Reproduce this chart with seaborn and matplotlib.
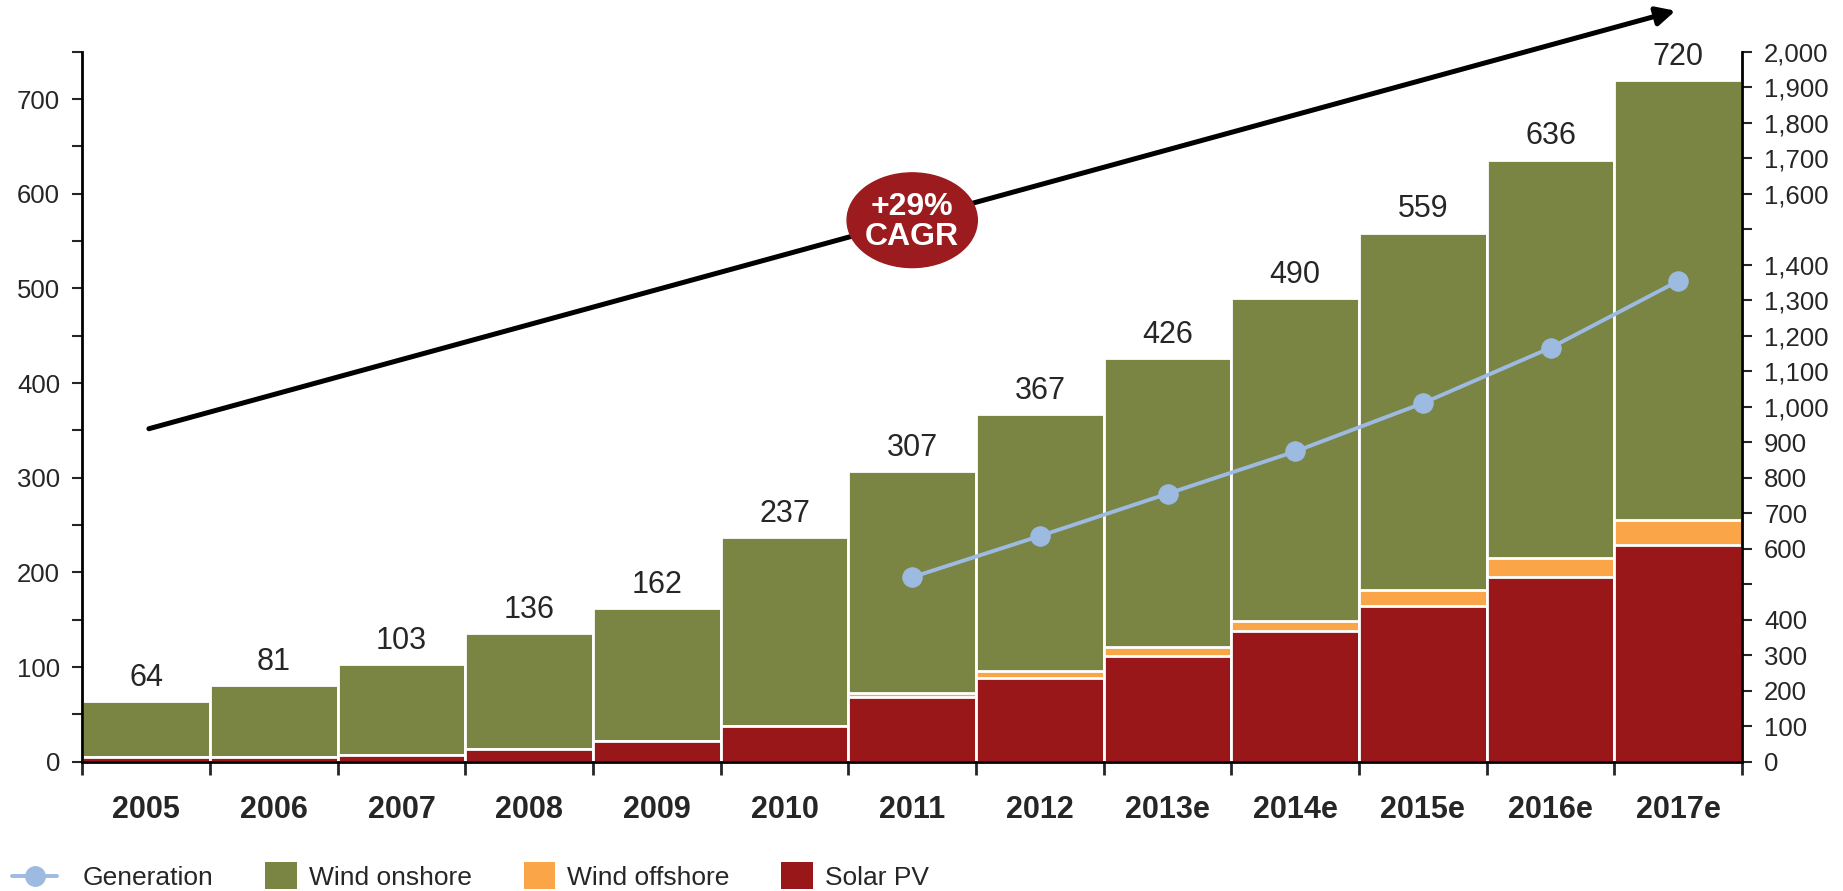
import numpy as np
import pandas as pd
import seaborn as sns
import matplotlib.pyplot as plt
from matplotlib.patches import Ellipse, Patch, Rectangle
from matplotlib.lines import Line2D

years = ["2005", "2006", "2007", "2008", "2009", "2010", "2011", "2012",
         "2013e", "2014e", "2015e", "2016e", "2017e"]
totals = [64, 81, 103, 136, 162, 237, 307, 367, 426, 490, 559, 636, 720]
solar_pv = [5, 5, 7, 13, 22, 38, 68, 89, 112, 138, 165, 195, 229]
wind_offshore = [0, 0, 0, 0, 0, 0, 5, 7, 9, 11, 16, 20, 26]
wind_onshore = [t - s - o for t, s, o in zip(totals, solar_pv, wind_offshore)]

gen_years = ["2011", "2012", "2013e", "2014e", "2015e", "2016e", "2017e"]
generation = [520, 636, 755, 874, 1010, 1166, 1354]

c_onshore = "#7A8443"
c_offshore = "#FBA549"
c_solar = "#9A1719"
c_gen = "#9DBBE0"

sns.set_style("white")
plt.rcParams["font.family"] = ["Liberation Sans", "DejaVu Sans"]

df = pd.DataFrame({"year": years, "total": totals,
                   "lower": [s + o for s, o in zip(solar_pv, wind_offshore)],
                   "solar": solar_pv})

fig = plt.figure(figsize=(18.43, 8.91), dpi=100)
ax = fig.add_axes([0.0447, 0.145, 0.9005, 0.797])

# stacked bars drawn back to front
for col, c in [("total", c_onshore), ("lower", c_offshore), ("solar", c_solar)]:
    sns.barplot(data=df, x="year", y=col, color=c, saturation=1, width=1.0,
                edgecolor="white", linewidth=2, order=years, ax=ax)

ax.bar_label(ax.containers[0], labels=[str(v) for v in totals], padding=6, fontsize=22)

ax.set_xlim(-0.5, 12.5)
ax.set_ylim(0, 750)
ax.set_xlabel("")
ax.set_ylabel("")
ax.set_yticks(np.arange(0, 751, 50))
ax.set_yticklabels([str(v) if v % 100 == 0 else "" for v in range(0, 751, 50)], fontsize=18.5)
ax.set_xticks(range(len(years)))
ax.set_xticklabels(years, fontsize=22, fontweight="bold")
ax.set_xticks(np.arange(-0.5, 13, 1), minor=True)
ax.tick_params(axis="x", which="major", length=0, pad=24)
ax.tick_params(axis="x", which="minor", length=9, width=2, direction="out", bottom=True)
ax.tick_params(axis="y", length=7, width=1.5, direction="out", left=True, pad=9)
for s in ["left", "bottom"]:
    ax.spines[s].set_linewidth(2)
    ax.spines[s].set_color("black")
ax.spines["top"].set_visible(False)
ax.spines["right"].set_visible(False)

# generation on the right axis
ax2 = ax.twinx()
gen_x = [years.index(y) for y in gen_years]
sns.lineplot(x=gen_x, y=generation, color=c_gen, linewidth=2.8, marker="o",
             markersize=14, markeredgecolor=c_gen, ax=ax2)
ax2.set_ylim(0, 2000)
ax2.set_yticks(np.arange(0, 2001, 100))
ax2.set_yticklabels(["" if v in (500, 1500) else f"{v:,}" for v in range(0, 2001, 100)], fontsize=18.5)
ax2.tick_params(axis="y", length=7, width=1.5, direction="out", right=True, pad=9)
ax2.spines["right"].set_linewidth(2)
ax2.spines["right"].set_color("black")
ax2.spines["top"].set_visible(False)
ax2.spines["left"].set_visible(False)
ax2.spines["bottom"].set_visible(False)
ax2.set_xlim(-0.5, 12.5)

# CAGR arrow and badge
ax.annotate("", xy=(12, 794), xytext=(0, 351),
            arrowprops=dict(arrowstyle="-|>", lw=3.6, color="black", mutation_scale=28),
            annotation_clip=False)
ax.add_patch(Ellipse((6, 572), width=1.02, height=100, color="#9B1B1E", zorder=5))
ax.text(6, 570, "+29%\nCAGR", color="white", fontsize=23, fontweight="bold",
        ha="center", va="center", linespacing=1.0, zorder=6)


# legend handles: line sits left in its box, squares sit right
class LineHandler:
    def legend_artist(self, legend, orig_handle, fontsize, handlebox):
        x0, y0 = -handlebox.xdescent, -handlebox.ydescent
        w, h = handlebox.width, handlebox.height
        yc = y0 + h / 2
        tr = handlebox.get_transform()
        ln = Line2D([x0, x0 + 0.76 * w], [yc, yc], color=orig_handle.get_color(),
                    linewidth=2.8, transform=tr)
        mk = Line2D([x0 + 0.38 * w], [yc], marker="o", markersize=14, linestyle="none",
                    color=orig_handle.get_color(), transform=tr)
        handlebox.add_artist(ln)
        handlebox.add_artist(mk)
        return ln


class BoxHandler:
    def legend_artist(self, legend, orig_handle, fontsize, handlebox):
        x0, y0 = -handlebox.xdescent, -handlebox.ydescent
        w, h = handlebox.width, handlebox.height
        side = fontsize * 1.02
        p = Rectangle((x0 + 0.46 * w, y0 + h / 2 - side / 2), 0.54 * w, side,
                      facecolor=orig_handle.get_facecolor(), edgecolor="none",
                      transform=handlebox.get_transform())
        handlebox.add_artist(p)
        return p


gen_handle = Line2D([], [], color=c_gen)
handles = [gen_handle, Patch(color=c_onshore), Patch(color=c_offshore), Patch(color=c_solar)]
labels = ["Generation", "Wind onshore", "Wind offshore", "Solar PV"]
fig.legend(handles, labels, loc="center left", bbox_to_anchor=(0.001, 14 / 891), ncol=4,
           frameon=False, fontsize=19, handlelength=2.23, handleheight=1.0,
           handletextpad=0.45, columnspacing=0.93, borderaxespad=0,
           handler_map={Line2D: LineHandler(), Patch: BoxHandler()})

fig.savefig("out.png", dpi=100)
